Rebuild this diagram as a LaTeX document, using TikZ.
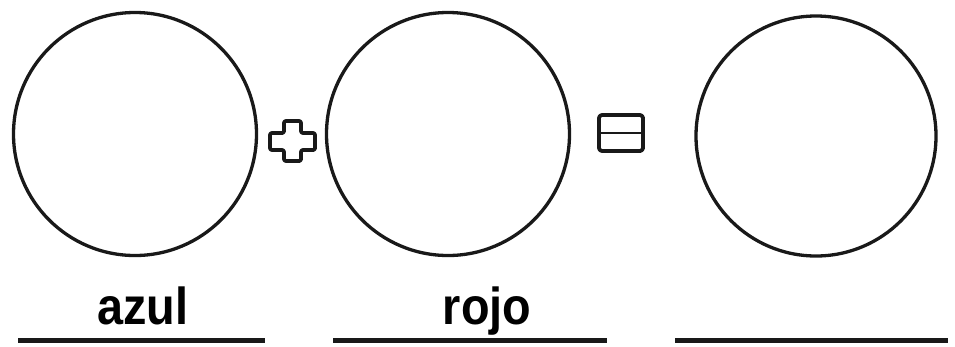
\documentclass[tikz,border=0pt]{standalone}
\usepackage{fontspec}
\setmainfont{Liberation Sans}
\begin{document}
\begin{tikzpicture}[x=1pt,y=-1pt,
  ring/.style={draw=black!90,line width=3.3pt,circle,minimum size=243pt,inner sep=0pt},
  rule/.style={draw=black!90,line width=5pt},
  sign/.style={draw=black!90,line width=3.8pt,line join=round},
  word/.style={font=\fontsize{52}{52}\selectfont\bfseries,xscale=0.9,inner sep=0pt,anchor=base}]
\useasboundingbox (0,0) rectangle (955,346);
\node[ring] (c1) at (135,134) {};
\node[ring] (c2) at (448,134) {};
\node[ring,minimum size=240pt] (c3) at (816,136) {};
% plus sign
\draw[sign,rounded corners=2pt] (284,121) -- (301,121) -- (301,133) -- (315,133) -- (315,150) -- (301,150) -- (301,161) -- (284,161) -- (284,150) -- (270,150) -- (270,133) -- (284,133) -- cycle;
% equals sign
\draw[sign,rounded corners=3pt] (599,115) rectangle (643,151);
\draw[sign,line width=2.8pt] (600,133) -- (642,133);
\node[word] (t1) at (143,324) {azul};
\node[word] (t2) at (487,324) {rojo};
\coordinate (l1a) at (18,340); \coordinate (l1b) at (265,340);
\coordinate (l2a) at (333,340); \coordinate (l2b) at (607,340);
\coordinate (l3a) at (675,340); \coordinate (l3b) at (948,340);
\draw[rule] (l1a) -- (l1b);
\draw[rule] (l2a) -- (l2b);
\draw[rule] (l3a) -- (l3b);
\end{tikzpicture}
\end{document}
